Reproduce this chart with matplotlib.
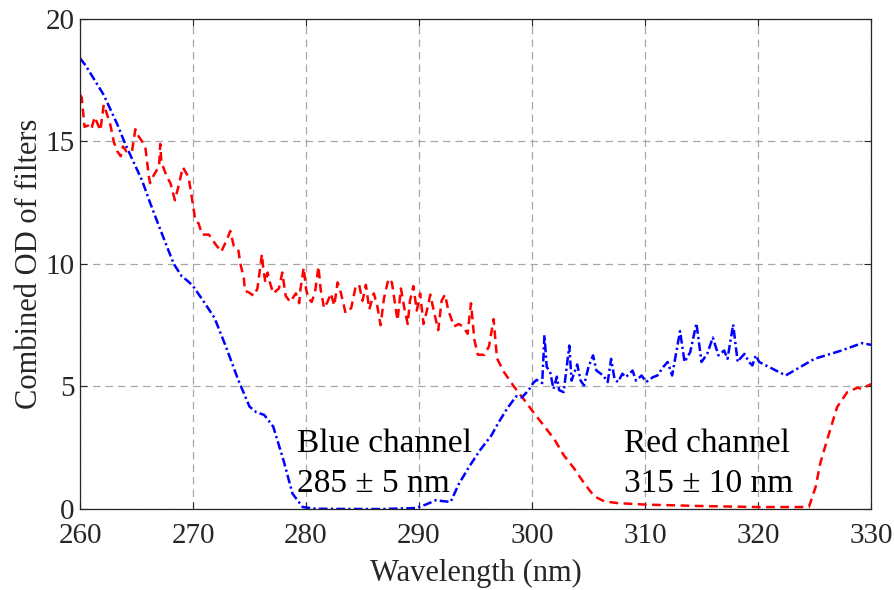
import matplotlib
matplotlib.use('Agg')
import matplotlib.pyplot as plt

# wavelength (nm) and OD for the blue channel filter stack
blue_nm = [260.0, 260.5, 261.3, 262.1, 262.5, 263.3, 264.0, 264.8, 265.5, 266.2,
           266.9, 267.7, 268.3, 269.0, 269.55, 270.0, 270.9, 271.9, 272.9, 274.0,
           275.0, 275.6, 276.3, 277.1, 278.0, 278.8, 279.7, 280.9, 283.8, 286.8,
           289.7, 290.6, 291.5, 292.1, 292.8, 293.5, 294.4, 295.4, 296.4, 297.0,
           297.8, 298.6, 299.1, 299.7, 300.1, 300.4, 300.9, 301.1, 301.3, 301.6,
           301.9, 302.2, 302.4, 302.8, 303.3, 303.5, 304.0, 304.3, 304.6, 305.0,
           305.4, 305.7, 306.3, 306.7, 307.0, 307.3, 307.6, 308.0, 308.3, 308.9,
           309.2, 309.7, 310.1, 310.7, 311.1, 311.6, 312.0, 312.4, 313.1, 313.5,
           314.0, 314.55, 315.0, 315.5, 316.0, 316.5, 317.0, 317.3, 317.8, 318.2,
           318.4, 318.8, 319.2, 319.5, 319.8, 320.1, 322.45, 325.0, 327.4, 329.2,
           330.0]
blue_od = [18.4, 18.1, 17.5, 16.9, 16.5, 15.7, 14.9, 14.1, 13.4, 12.5,
           11.65, 10.7, 10.0, 9.5, 9.3, 9.1, 8.5, 7.8, 6.64, 5.27,
           4.18, 3.95, 3.84, 3.36, 2.0, 0.63, 0.08, 0.01, 0.0, 0.0,
           0.04, 0.18, 0.36, 0.32, 0.29, 1.0, 1.7, 2.4, 3.0, 3.5,
           4.1, 4.6, 4.55, 4.85, 5.14, 5.27, 5.14, 7.1, 5.8, 5.6,
           4.9, 5.4, 4.85, 4.77, 6.67, 5.24, 5.9, 5.24, 5.04, 5.8,
           6.27, 5.65, 5.45, 5.18, 6.13, 5.31, 5.18, 5.52, 5.38, 5.65,
           5.24, 5.45, 5.18, 5.38, 5.45, 5.79, 6.0, 5.45, 7.26, 6.0,
           6.4, 7.58, 6.0, 6.33, 7.0, 6.27, 6.47, 6.13, 7.53, 6.0,
           6.13, 6.33, 6.0, 5.86, 6.27, 6.0, 5.45, 6.13, 6.47, 6.77,
           6.7]

# wavelength (nm) and OD for the red channel filter stack
red_nm = [260.0, 260.15, 260.3, 260.4, 260.7, 261.0, 261.3, 261.8, 262.1, 262.4,
          262.7, 263.0, 263.3, 263.6, 263.8, 264.1, 264.6, 264.9, 265.2, 265.5,
          265.8, 266.1, 266.2, 266.5, 267.0, 267.1, 267.2, 267.7, 268.0, 268.4,
          268.7, 269.1, 269.6, 269.9, 270.2, 270.5, 270.8, 271.4, 272.0, 272.5,
          273.0, 273.3, 273.6, 274.0, 274.2, 274.5, 274.6, 274.9, 275.4, 275.7,
          276.1, 276.2, 276.4, 276.6, 276.8, 277.1, 277.6, 277.9, 278.2, 278.6,
          279.1, 279.4, 279.5, 279.8, 280.0, 280.2, 280.5, 280.8, 281.1, 281.3,
          281.6, 281.9, 282.2, 282.5, 282.8, 283.1, 283.5, 284.0, 284.4, 284.7,
          285.0, 285.3, 285.6, 286.0, 286.3, 286.6, 286.9, 287.3, 287.6, 287.9,
          288.1, 288.4, 288.7, 289.0, 289.2, 289.5, 289.8, 290.1, 290.4, 290.7,
          291.0, 291.3, 291.7, 292.0, 292.3, 292.6, 293.1, 293.5, 293.9, 294.3,
          294.6, 294.9, 295.2, 295.8, 296.2, 296.6, 296.9, 297.5, 298.4, 299.3,
          300.2, 301.1, 302.0, 302.8, 303.7, 304.6, 305.5, 306.4, 307.6, 310.0,
          315.0, 320.0, 324.5, 325.1, 325.5, 326.1, 326.7, 327.0, 327.9, 328.8,
          329.2, 330.0]
red_od = [16.9, 16.8, 16.1, 15.6, 15.65, 15.5, 16.0, 15.45, 16.5, 16.1,
          15.65, 14.97, 14.6, 14.4, 14.8, 14.6, 14.6, 15.5, 15.2, 15.0,
          14.7, 13.55, 13.3, 13.6, 14.0, 14.9, 14.15, 13.55, 13.3, 12.6,
          13.15, 13.95, 13.55, 12.7, 11.8, 11.65, 11.2, 11.2, 10.8, 10.5,
          11.0, 11.35, 10.75, 10.6, 10.0, 9.4, 8.9, 8.85, 8.7, 9.0,
          10.4, 9.9, 9.25, 9.65, 9.25, 8.8, 9.0, 9.65, 8.7, 8.45,
          8.8, 8.4, 8.95, 9.85, 9.0, 8.6, 8.45, 8.85, 9.9, 8.95,
          8.2, 8.45, 8.8, 8.3, 9.25, 8.8, 8.0, 8.2, 9.1, 9.15,
          8.5, 9.15, 8.15, 8.8, 8.3, 7.5, 8.6, 9.4, 9.25, 8.3,
          7.7, 9.0, 8.2, 7.55, 8.5, 9.1, 8.1, 8.8, 7.55, 8.1,
          8.75, 8.1, 7.3, 8.5, 8.75, 8.1, 7.45, 7.55, 7.45, 7.15,
          8.4, 6.9, 6.3, 6.29, 6.65, 7.75, 6.15, 5.6, 5.0, 4.46,
          3.9, 3.37, 2.83, 2.2, 1.67, 1.06, 0.52, 0.31, 0.24, 0.18,
          0.12, 0.08, 0.08, 0.9, 1.85, 2.8, 3.7, 4.16, 4.77, 4.95,
          4.9, 5.1]

xticks = [260, 270, 280, 290, 300, 310, 320, 330]
yticks = [0, 5, 10, 15, 20]

plt.rcParams['font.family'] = ['Liberation Serif', 'DejaVu Serif']

fig = plt.figure(figsize=(8.95, 5.9), dpi=100)
ax = fig.add_axes([0.0894, 0.1373, 0.8838, 0.8305])

ax.plot(red_nm, red_od, color='red', linestyle=(0, (3.5, 2.2)), linewidth=1.8)
ax.plot(blue_nm, blue_od, color='blue', linestyle=(0, (3.5, 1.3, 0.9, 1.3)), linewidth=1.8)

ax.text(279.2, 2.33, 'Blue channel', fontsize=24, color='black')
ax.text(279.2, 0.7, '285 \u00b1 5 nm', fontsize=24, color='black')
ax.text(308.1, 2.33, 'Red channel', fontsize=24, color='black')
ax.text(308.1, 0.7, '315 \u00b1 10 nm', fontsize=24, color='black')

ax.set_xlim(260, 330)
ax.set_ylim(0, 20)
ax.set_xticks(xticks)
ax.set_yticks(yticks)
ax.grid(True, color='#a8a8a8', linestyle=(0, (6, 4)), linewidth=0.9)
ax.set_axisbelow(True)
ax.tick_params(direction='in', length=5, width=0.8, labelsize=21, colors='#262626',
               top=True, right=True, pad=4)
ax.tick_params(axis='x', pad=10)
for s in ax.spines.values():
    s.set_color('#262626')
    s.set_linewidth(0.9)
ax.set_xlabel('Wavelength (nm)', fontsize=22, color='#262626', labelpad=7)
ax.set_ylabel('Combined OD of filters', fontsize=22, color='#262626', labelpad=1)

plt.savefig('out.png', dpi=100)
